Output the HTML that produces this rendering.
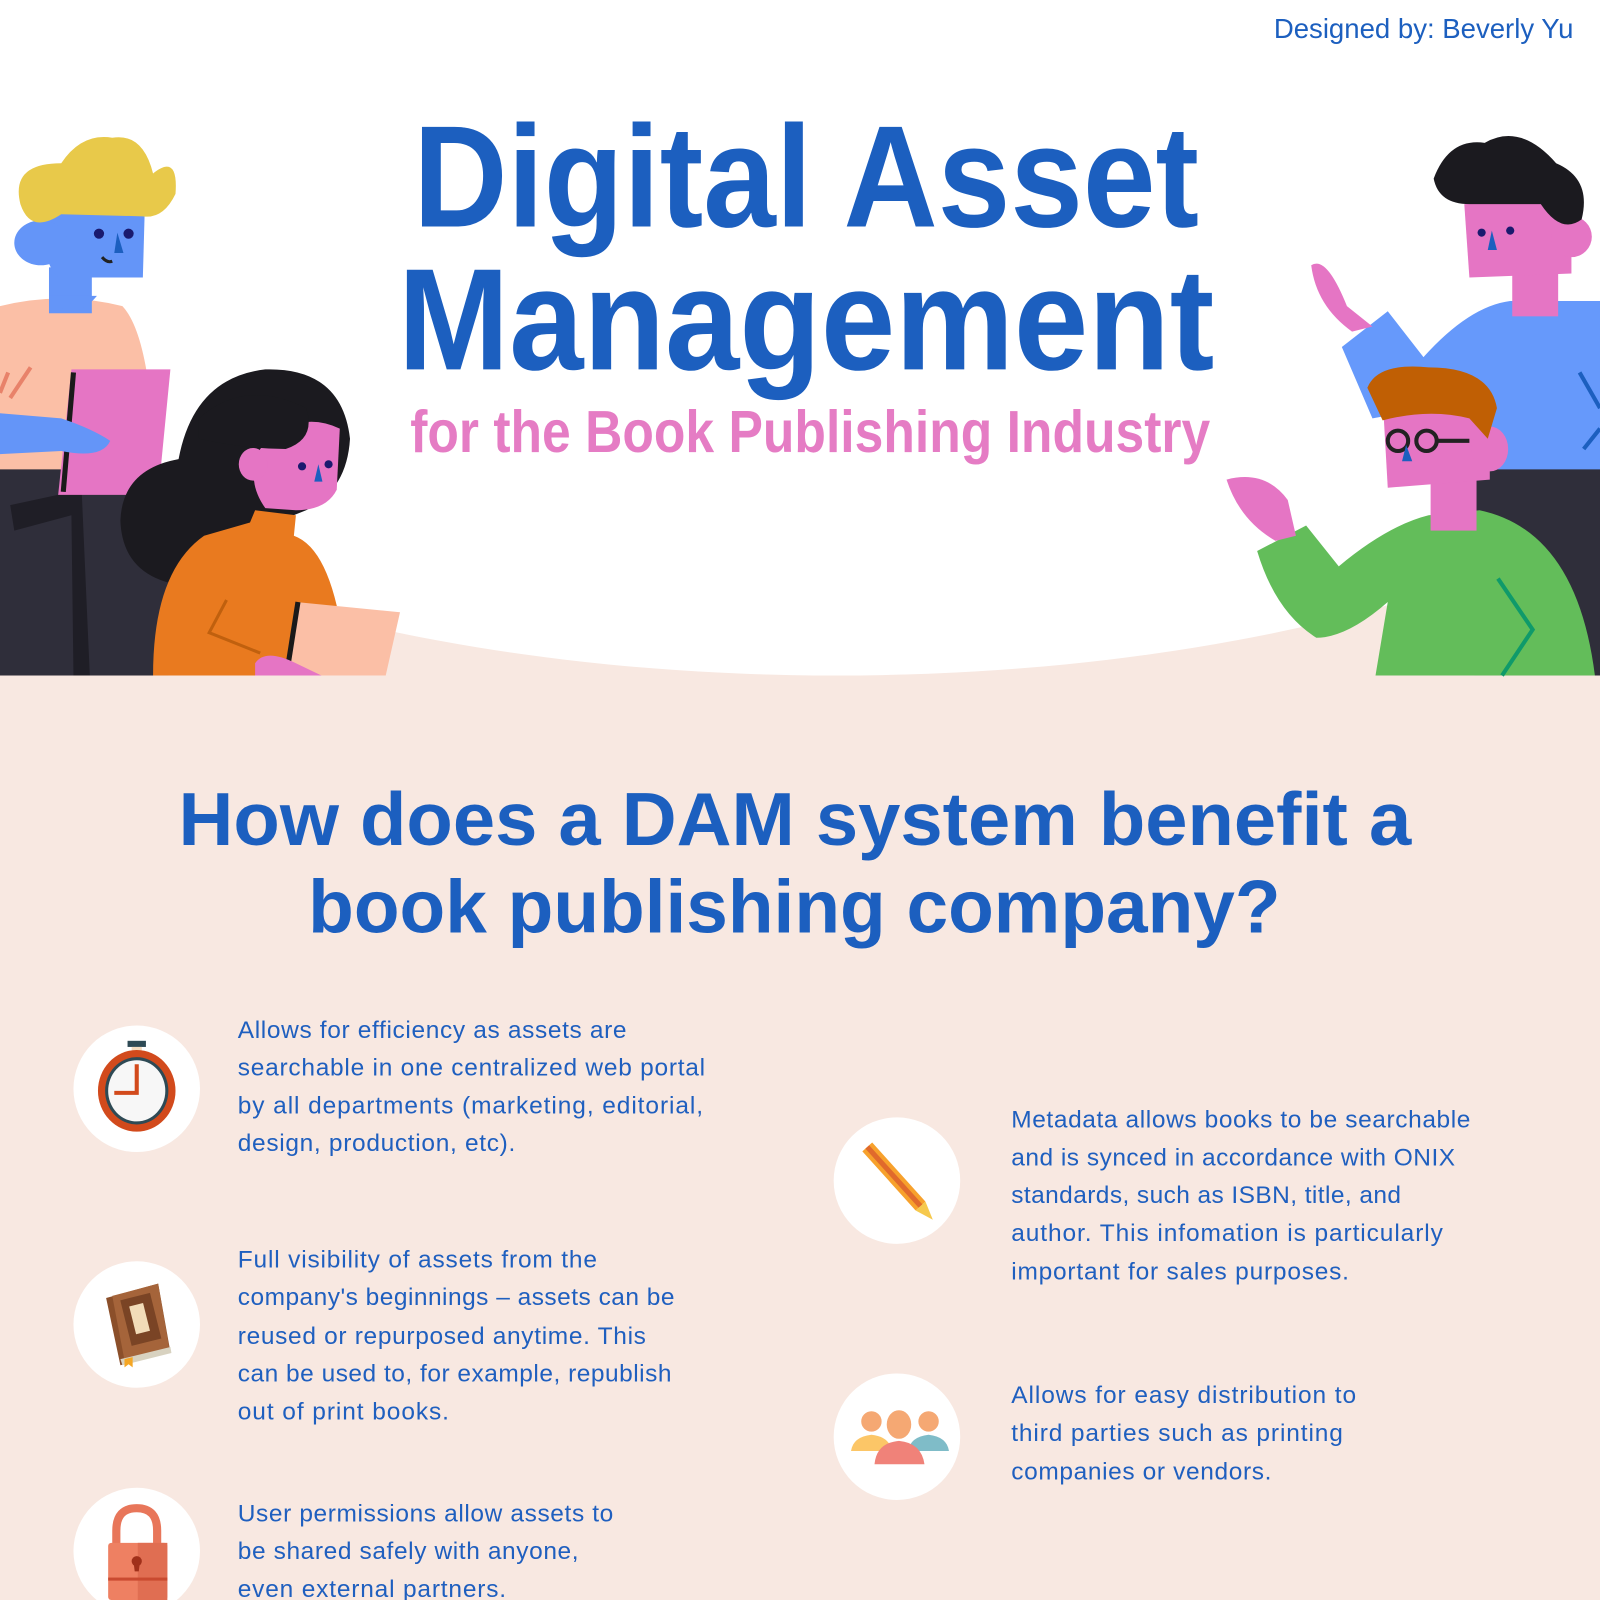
<!DOCTYPE html>
<html><head><meta charset="utf-8"><style>
html,body{margin:0;padding:0;background:#f8e8e1;}
svg{display:block;}
text{font-family:"Liberation Sans",sans-serif;}
.b{fill:#1f5fbf;font-size:24px;}
</style></head><body>
<svg width="1600" height="1600" viewBox="0 0 1568 1568" xmlns="http://www.w3.org/2000/svg">
<rect width="1568" height="1568" fill="#f8e8e1"/>
<rect width="1568" height="560" fill="#fff"/>
<ellipse cx="820" cy="300" rx="920" ry="362" fill="#fff"/>

<!-- Designed by -->
<text x="1542" y="37" text-anchor="end" fill="#1c5fbf" font-size="27">Designed by: Beverly Yu</text>

<!-- Title -->
<text x="405" y="222" textLength="770" lengthAdjust="spacingAndGlyphs" fill="#1c5fbf" font-size="142" font-weight="bold">Digital Asset</text>
<text x="390" y="362" textLength="800" lengthAdjust="spacingAndGlyphs" fill="#1c5fbf" font-size="142" font-weight="bold">Management</text>
<text x="402" y="443" textLength="784" lengthAdjust="spacingAndGlyphs" fill="#e57cc4" font-size="58" font-weight="bold">for the Book Publishing Industry</text>

<!-- Left person 1 -->
<rect x="0" y="455" width="165" height="207" fill="#2f2e3a"/>
<path d="M0 300 Q60 285 120 300 Q148 330 152 460 L0 460 Z" fill="#fbbfa6"/>
<path d="M8 365 L0 385 M30 360 L10 390" stroke="#e8826a" stroke-width="4"/>
<rect x="48" y="262" width="42" height="45" fill="#6495f8"/>
<path d="M48 290 Q70 320 95 290 Z" fill="#6495f8"/>
<path d="M42 200 L142 200 L140 272 L58 272 Q40 260 42 200 Z" fill="#6495f8"/>
<ellipse cx="40" cy="238" rx="26" ry="22" fill="#6495f8"/>
<path d="M20 200 Q10 160 60 160 Q80 130 110 135 Q140 130 150 170 Q175 150 172 190 Q160 215 140 212 L60 210 Q30 230 20 200 Z" fill="#e8c94a"/>
<circle cx="97" cy="229" r="5" fill="#1a1a6e"/><circle cx="126" cy="229" r="5" fill="#1a1a6e"/>
<path d="M115 228 L121 248 L112 248 Z" fill="#1c5fbf"/>
<path d="M100 252 Q105 258 110 256" stroke="#222" stroke-width="3" fill="none"/>
<path d="M10 495 L80 480 L88 662 L72 662 L70 505 L14 520 Z" fill="#1f1e26"/>
<polygon points="70,362 167,362 155,485 57,485" fill="#e575c4"/>
<path d="M72 365 L62 482" stroke="#1a1a1a" stroke-width="5"/>
<path d="M0 405 L60 410 Q90 420 108 432 Q100 450 60 442 L0 445 Z" fill="#6495f8"/>

<!-- Woman -->
<path d="M175 450 Q190 370 260 362 Q335 360 343 430 Q340 480 300 500 L250 520 Q230 560 190 575 Q120 570 118 510 Q120 460 175 450 Z" fill="#1b1a1f"/>
<path d="M255 440 Q290 400 333 420 L330 480 Q320 500 290 500 L260 498 Q240 470 255 440 Z" fill="#e575c4"/>
<ellipse cx="248" cy="455" rx="14" ry="16" fill="#e575c4"/>
<path d="M195 410 Q240 370 300 400 Q310 430 280 440 Q240 440 195 430 Z" fill="#1b1a1f"/>
<circle cx="296" cy="457" r="4" fill="#1a1a6e"/><circle cx="322" cy="455" r="4" fill="#1a1a6e"/>
<path d="M312 455 L316 472 L308 472 Z" fill="#1c5fbf"/>
<path d="M150 662 Q150 560 200 525 L245 512 L250 500 L290 505 L288 525 Q330 540 340 662 Z" fill="#e97a1f"/>
<path d="M222 588 L205 620 L255 640" stroke="#c0600e" stroke-width="3" fill="none"/>
<polygon points="290,590 392,600 378,662 280,662" fill="#fbbfa6"/>
<path d="M292 590 L281 660" stroke="#1a1a1a" stroke-width="5"/>
<path d="M250 650 Q260 635 290 650 L315 662 L250 662 Z" fill="#e575c4"/>

<!-- Right man 1 -->
<rect x="1445" y="455" width="123" height="207" fill="#2f2e3a"/>
<path d="M1315 340 L1360 305 L1395 350 Q1440 300 1480 295 L1568 295 L1568 460 L1445 460 Q1420 420 1400 400 L1345 410 Z" fill="#6699fb"/>
<path d="M1548 365 L1568 400 M1552 440 L1568 420" stroke="#1c5fbf" stroke-width="4"/>
<path d="M1285 260 Q1300 250 1320 300 L1345 320 L1325 325 Q1290 300 1285 260 Z" fill="#e575c4"/>
<rect x="1482" y="255" width="45" height="55" fill="#e575c4"/>
<path d="M1435 200 L1540 195 L1540 268 L1440 272 Z" fill="#e575c4"/>
<ellipse cx="1540" cy="232" rx="20" ry="20" fill="#e575c4"/>
<path d="M1405 175 Q1420 135 1455 140 Q1490 120 1525 160 Q1560 175 1550 215 Q1530 230 1510 200 L1440 200 Q1410 200 1405 175 Z" fill="#1b1a1f"/>
<circle cx="1452" cy="228" r="4" fill="#1a1a6e"/><circle cx="1480" cy="226" r="4" fill="#1a1a6e"/>
<path d="M1462 226 L1467 245 L1458 245 Z" fill="#1c5fbf"/>

<!-- Right man 2 -->
<path d="M1232 540 L1280 515 L1312 555 Q1360 515 1400 505 L1450 500 Q1545 520 1563 662 L1348 662 L1360 590 Q1320 625 1290 625 Q1250 600 1232 540 Z" fill="#63bd5a"/>
<path d="M1468 567 L1502 617 L1472 662" stroke="#0f9a6a" stroke-width="4" fill="none"/>
<path d="M1202 470 Q1240 460 1262 490 L1270 525 L1250 530 Q1215 510 1202 470 Z" fill="#e575c4"/>
<rect x="1402" y="460" width="45" height="60" fill="#e575c4"/>
<path d="M1355 390 L1460 395 L1460 470 L1360 478 Z" fill="#e575c4"/>
<ellipse cx="1460" cy="440" rx="18" ry="22" fill="#e575c4"/>
<path d="M1340 380 Q1350 355 1400 360 Q1460 360 1467 400 L1458 430 L1440 410 Q1400 400 1355 412 Z" fill="#c05f04"/>
<circle cx="1370" cy="432" r="10" fill="none" stroke="#222" stroke-width="4"/>
<circle cx="1398" cy="432" r="10" fill="none" stroke="#222" stroke-width="4"/>
<path d="M1408 432 L1440 432" stroke="#222" stroke-width="4"/>
<path d="M1378 436 L1384 452 L1374 452 Z" fill="#1c5fbf"/>

<!-- Section heading -->
<text x="175" y="828" textLength="1208" lengthAdjust="spacingAndGlyphs" fill="#1c5fbf" font-size="74" font-weight="bold">How does a DAM system benefit a</text>
<text x="302" y="914" textLength="953" lengthAdjust="spacingAndGlyphs" fill="#1c5fbf" font-size="74" font-weight="bold">book publishing company?</text>

<!-- Circles -->
<circle cx="134" cy="1067" r="62" fill="#fff"/>
<circle cx="134" cy="1298" r="62" fill="#fff"/>
<circle cx="134" cy="1520" r="62" fill="#fff"/>
<circle cx="879" cy="1157" r="62" fill="#fff"/>
<circle cx="879" cy="1408" r="62" fill="#fff"/>

<!-- Stopwatch -->
<rect x="125" y="1020" width="18" height="6" fill="#2e4a55"/>
<rect x="129" y="1026" width="10" height="8" fill="#f4dcc0"/>
<ellipse cx="134" cy="1069" rx="38" ry="40" fill="#d24a1c"/>
<ellipse cx="134" cy="1069" rx="31" ry="33" fill="#2e4a55"/>
<ellipse cx="134" cy="1069" rx="28" ry="30" fill="#f7f7f7"/>
<path d="M134 1043 L134 1071 L112 1071" stroke="#d24a1c" stroke-width="4" fill="none"/>

<!-- Book -->
<polygon points="104,1272 155,1258 167,1325 118,1338" fill="#8b4f2a"/>
<polygon points="110,1270 155,1258 166,1322 122,1333" fill="#a5643a"/>
<rect x="123" y="1270" width="30" height="46" fill="#7a4425" transform="rotate(-14 138 1293)"/>
<rect x="130" y="1278" width="14" height="28" fill="#f2dcb8" transform="rotate(-14 138 1293)"/>
<polygon points="118,1332 167,1320 168,1326 120,1338" fill="#d8d2c0"/>
<polygon points="122,1332 130,1330 130,1340 126,1337 122,1340" fill="#f5a623"/>

<!-- Lock -->
<path d="M114 1515 L114 1500 Q114 1478 134 1478 Q154 1478 154 1500 L154 1515" stroke="#e8765a" stroke-width="8" fill="none"/>
<rect x="106" y="1512" width="58" height="56" rx="3" fill="#ee8062"/>
<rect x="135" y="1512" width="29" height="56" fill="#e06e52"/>
<circle cx="134" cy="1530" r="5" fill="#a0301a"/><path d="M131 1532 L137 1532 L136 1540 L132 1540 Z" fill="#a0301a"/>
<rect x="106" y="1546" width="58" height="3" fill="#c94a30"/>

<!-- Pencil -->
<g transform="rotate(48 879 1157)">
<rect x="835" y="1150" width="78" height="13" fill="#f7a12c"/>
<rect x="835" y="1154" width="78" height="5" fill="#e06a2c"/>
<polygon points="913,1150 931,1156.5 913,1163" fill="#f6c94d"/>
</g>

<!-- People group -->
<circle cx="854" cy="1393" r="10" fill="#f5a873"/>
<path d="M834 1422 Q836 1408 854 1406 Q872 1408 874 1422 Z" fill="#fcc667"/>
<circle cx="910" cy="1393" r="10" fill="#f5a873"/>
<path d="M890 1422 Q892 1408 910 1406 Q928 1408 930 1422 Z" fill="#7fbcc8"/>
<ellipse cx="881" cy="1396" rx="12" ry="14" fill="#f5a873"/>
<path d="M857 1435 Q859 1414 881 1412 Q903 1414 906 1435 Z" fill="#f08279"/>

<!-- Left texts -->
<text class="b"><tspan x="233" y="1017" textLength="381">Allows for efficiency as assets are</tspan><tspan x="233" y="1054" textLength="458">searchable in one centralized web portal</tspan><tspan x="233" y="1091" textLength="456">by all departments (marketing, editorial,</tspan><tspan x="233" y="1128" textLength="272">design, production, etc).</tspan></text>
<text class="b"><tspan x="233" y="1242" textLength="352">Full visibility of assets from the</tspan><tspan x="233" y="1279" textLength="428">company's beginnings – assets can be</tspan><tspan x="233" y="1317" textLength="400">reused or repurposed anytime. This</tspan><tspan x="233" y="1354" textLength="425">can be used to, for example, republish</tspan><tspan x="233" y="1391" textLength="207">out of print books.</tspan></text>
<text class="b"><tspan x="233" y="1491" textLength="368">User permissions allow assets to</tspan><tspan x="233" y="1528" textLength="334">be shared safely with anyone,</tspan><tspan x="233" y="1565" textLength="263">even external partners.</tspan></text>

<!-- Right texts -->
<text class="b"><tspan x="991" y="1105" textLength="450">Metadata allows books to be searchable</tspan><tspan x="991" y="1142" textLength="435">and is synced in accordance with ONIX</tspan><tspan x="991" y="1179" textLength="382">standards, such as ISBN, title, and</tspan><tspan x="991" y="1216" textLength="423">author. This infomation is particularly</tspan><tspan x="991" y="1254" textLength="331">important for sales purposes.</tspan></text>
<text class="b"><tspan x="991" y="1375" textLength="338">Allows for easy distribution to</tspan><tspan x="991" y="1412" textLength="325">third parties such as printing</tspan><tspan x="991" y="1450" textLength="255">companies or vendors.</tspan></text>
</svg>
</body></html>
